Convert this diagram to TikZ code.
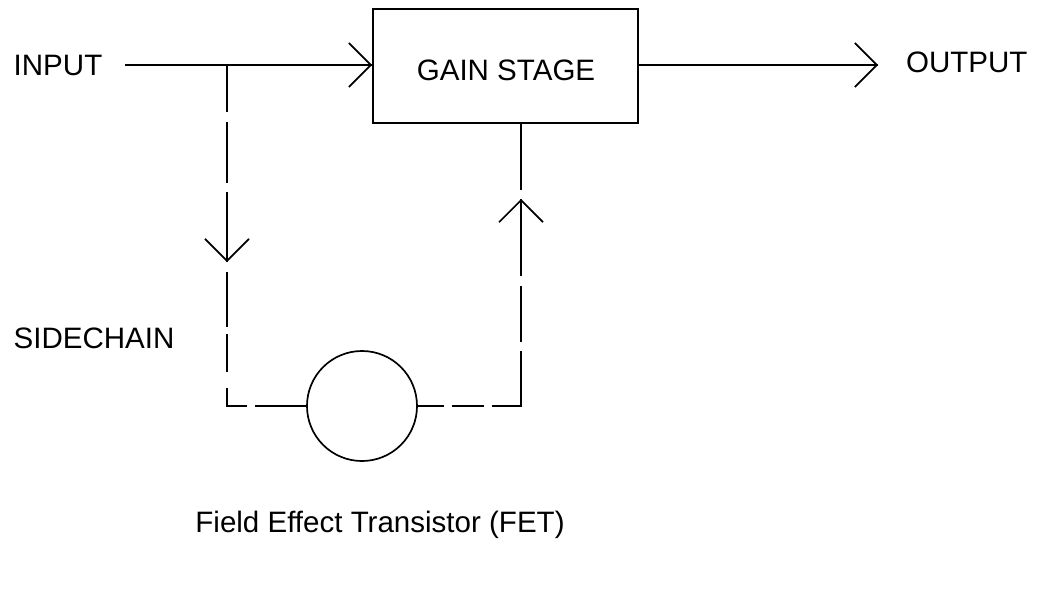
\documentclass[tikz,border=0pt]{standalone}
\usepackage{fontspec}
\setmainfont{Liberation Sans}
\usetikzlibrary{arrows.meta,positioning,decorations.markings}

\begin{document}
\begin{tikzpicture}[x=0.025cm,y=-0.025cm,line width=1.2pt]

    \tikzset{
      label/.style={
        font=\fontsize{21}{25}\selectfont,
        inner sep=0pt,
      },
      stage/.style={
        draw,
        minimum width=6.625cm,
        minimum height=2.85cm,
      },
      sig/.style={
        postaction={decorate},
        decoration={markings,
          mark=at position 1 with {\arrow[solid]{Straight Barb[length=0.55cm,width=1.1cm]}}},
      },
      sidedown/.style={dash pattern=on 1.175cm off 0.25cm on 1.525cm off 0.225cm on 2cm off 1cm},
      sidelow/.style={dash pattern=on 0cm off 0.25cm on 1.375cm off 0.175cm on 0.95cm off 0.4cm on 0.95cm off 0.2cm on 1.3cm off 1cm},
      sideup/.style={dash pattern=on 0.65cm off 0.2cm on 0.8cm off 0.2cm on 2.1cm off 0.225cm on 1.4cm off 0.25cm on 2.2cm off 1cm},
    }
    \useasboundingbox (0,0) rectangle (1040,606);

    \node[stage] (gain) at (505.5,66) {};
    \node[label] (gaintext) at (506,70) {GAIN STAGE};
    \node[label] (input) at (58,65) {INPUT};
    \node[label] (sidechain) at (94,338) {SIDECHAIN};
    \node[draw,circle,minimum size=2.75cm,inner sep=0pt] (fet) at (362,406) {};
    \node[label] (fetlabel) at (380,525) {Field Effect Transistor (FET)};

    \coordinate (start) at (125,65);
    \coordinate (branch) at (227,65);
    \coordinate (outtip) at (878,65);
    \coordinate (dntip) at (227,262);
    \coordinate (lcorner) at (227,406);
    \coordinate (rcorner) at (521,406);
    \coordinate (uptip) at (521,199);
    \node[label,right=0.68cm of outtip,yshift=0.07cm] (output) {OUTPUT};

    \draw[sig] (start) -- (start -| gain.west);
    \draw[sig] (gain.east |- start) -- (outtip);
    \draw[sig,sidedown] (branch) -- (dntip);
    \draw[sidelow] (dntip) -- (lcorner) -- (fet.west);
    \draw[sig,sideup] (fet.east) -- (rcorner) -- (uptip);
    \draw[dash pattern=on 1.65cm off 0.25cm] (uptip |- gain.south) -- (uptip);

\end{tikzpicture}
\end{document}
